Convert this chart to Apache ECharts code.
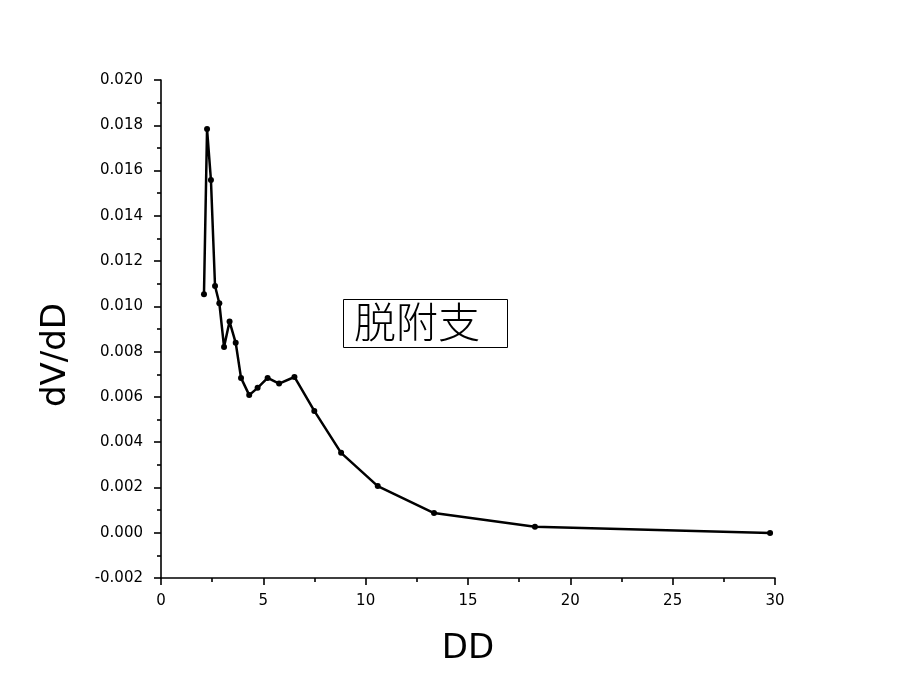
<!DOCTYPE html>
<html><head><meta charset="utf-8">
<script src="https://cdn.jsdelivr.net/npm/echarts@6/dist/echarts.min.js"></script>
<style>html,body{margin:0;padding:0;background:#fff}#c{width:900px;height:695px}</style>
</head><body><div id="c"></div>
<script>
const poreDiameter = [2.10, 2.25, 2.44, 2.64, 2.85, 3.08, 3.35, 3.65, 3.91, 4.31, 4.72, 5.21, 5.77, 6.52, 7.49, 8.80, 10.59, 13.34, 18.27, 29.76];
const dVdD = [0.01054, 0.01783, 0.01558, 0.01090, 0.01014, 0.00821, 0.00933, 0.00839, 0.00684, 0.00608, 0.00640, 0.00684, 0.00659, 0.00688, 0.00538, 0.00353, 0.00206, 0.00087, 0.00026, -0.00001];
const xTicks = [0, 5, 10, 15, 20, 25, 30];
const yTicks = [-0.002, 0.000, 0.002, 0.004, 0.006, 0.008, 0.010, 0.012, 0.014, 0.016, 0.018, 0.020];
const annotation = '脱附支';

const chart = echarts.init(document.getElementById('c'), null, {renderer: 'canvas'});
const FONT = '"DejaVu Sans", Arial';
const axisCommon = {
  axisLine: {show: true, onZero: false, lineStyle: {color: '#000', width: 1.6}},
  axisTick: {show: true, inside: false, length: 7, lineStyle: {color: '#000', width: 1.6}},
  minorTick: {show: true, splitNumber: 2, length: 4, lineStyle: {color: '#000', width: 1.6}},
  splitLine: {show: false},
  axisLabel: {color: '#000', fontFamily: FONT, fontSize: 15}
};
chart.setOption({
  animation: false,
  backgroundColor: '#fff',
  grid: {left: 161, top: 80, right: 125, bottom: 117, containLabel: false},
  xAxis: Object.assign({}, axisCommon, {
    type: 'value', min: xTicks[0], max: xTicks[xTicks.length - 1], interval: 5,
    name: 'DD', nameLocation: 'middle', nameGap: 54,
    nameTextStyle: {color: '#000', fontFamily: FONT, fontSize: 34},
    axisLabel: Object.assign({}, axisCommon.axisLabel, {margin: 16})
  }),
  yAxis: Object.assign({}, axisCommon, {
    type: 'value', min: yTicks[0], max: yTicks[yTicks.length - 1], interval: 0.002,
    name: 'dV/dD', nameLocation: 'middle', nameGap: 88, nameRotate: 90,
    nameTextStyle: {color: '#000', fontFamily: FONT, fontSize: 34, padding: [0, 52, 0, 0]},
    axisLabel: Object.assign({}, axisCommon.axisLabel, {margin: 18, formatter: v => v.toFixed(3)})
  }),
  series: [{
    type: 'line',
    data: poreDiameter.map((x, i) => [x, dVdD[i]]),
    symbol: 'circle', symbolSize: 6,
    lineStyle: {color: '#000', width: 2.5},
    itemStyle: {color: '#000'}
  }],
  graphic: [
    {type: 'rect', left: 343, top: 299, shape: {width: 164, height: 48},
     style: {fill: '#fff', stroke: '#000', lineWidth: 1}},
    {type: 'text', left: 354, top: 301,
     style: {text: annotation, fill: '#000', font: '300 42px "Noto Sans CJK SC"'}}
  ]
});
</script></body></html>
